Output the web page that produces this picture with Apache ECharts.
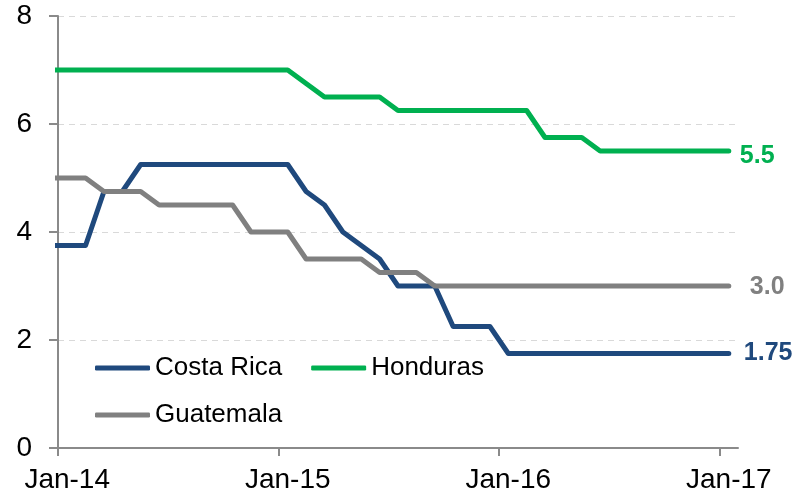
<!DOCTYPE html>
<html>
<head>
<meta charset="utf-8">
<script src="https://cdn.jsdelivr.net/npm/echarts@6/dist/echarts.min.js"></script>
<style>
  html, body { margin: 0; padding: 0; background: #fff; }
  .chart { width: 805px; height: 498px; }
</style>
</head>
<body>
<div class="chart"></div>
<script>
// 数据 (monthly, plotted at mid-month; 0 = start of Jan-14)
var months = [];
for (var i = -1; i <= 36; i++) months.push(i + 0.5);

var costaRica = [3.75, 3.75, 3.75, 4.75, 4.75,
    5.25, 5.25, 5.25, 5.25, 5.25, 5.25, 5.25, 5.25, 5.25,
    4.75, 4.5, 4.0, 3.75, 3.5, 3.0, 3.0, 3.0, 2.25, 2.25, 2.25,
    1.75, 1.75, 1.75, 1.75, 1.75, 1.75, 1.75, 1.75, 1.75, 1.75, 1.75, 1.75, 1.75];
var honduras = [7, 7, 7, 7, 7, 7, 7, 7, 7, 7, 7, 7, 7, 7,
    6.75, 6.5, 6.5, 6.5, 6.5,
    6.25, 6.25, 6.25, 6.25, 6.25, 6.25, 6.25, 6.25,
    5.75, 5.75, 5.75,
    5.5, 5.5, 5.5, 5.5, 5.5, 5.5, 5.5, 5.5];
var guatemala = [5, 5, 5, 4.75, 4.75, 4.75,
    4.5, 4.5, 4.5, 4.5, 4.5, 4, 4, 4,
    3.5, 3.5, 3.5, 3.5, 3.25, 3.25, 3.25,
    3, 3, 3, 3, 3, 3, 3, 3, 3, 3, 3, 3, 3, 3, 3, 3, 3];

var tickMonths = [0, 12, 24, 36];
var tickLabels = ['Jan-14', 'Jan-15', 'Jan-16', 'Jan-17'];
var endLabels = ['1.75', '5.5', '3.0'];

var font = 'Liberation Sans, Arial, sans-serif';
var axisColor = '#8a8a8a';

function pairs(vals) {
    return vals.map(function (v, i) { return [months[i], v]; });
}

function lineSeries(name, vals, color, label, dist, dy) {
    return {
        name: name,
        type: 'line',
        data: pairs(vals),
        showSymbol: false,
        symbol: 'none',
        clip: true,
        lineStyle: { color: color, width: 5, cap: 'round', join: 'round' },
        itemStyle: { color: color },
        endLabel: {
            show: true,
            formatter: label,
            color: color,
            fontFamily: font,
            fontWeight: 'bold',
            fontSize: 25,
            distance: dist,
            offset: [0, dy]
        },
        animation: false
    };
}

var myChart = echarts.init(document.querySelector('.chart'));
var legendBase = {
    itemWidth: 55,
    itemHeight: 5,
    icon: 'roundRect',
    itemGap: 29,
    padding: 0,
    textStyle: { fontFamily: font, fontSize: 26, color: '#000' }
};
var option = {
    animation: false,
    grid: { left: 58, top: 16, width: 680, height: 432 },
    legend: [
        Object.assign({ data: ['Costa Rica', 'Honduras'], left: 95, top: 355 }, legendBase),
        Object.assign({ data: ['Guatemala'], left: 95, top: 402 }, legendBase)
    ],
    xAxis: {
        type: 'value',
        min: 0,
        max: 37,
        splitLine: { show: false },
        axisLine: { lineStyle: { color: axisColor, width: 2 } },
        axisTick: {
            customValues: tickMonths,
            length: 8,
            lineStyle: { color: axisColor, width: 2 }
        },
        axisLabel: {
            customValues: tickMonths.map(function (m) { return m + 0.5; }),
            formatter: function (v) {
                return tickLabels[tickMonths.indexOf(v - 0.5)] || '';
            },
            margin: 18,
            fontFamily: font,
            fontSize: 28,
            color: '#000'
        }
    },
    yAxis: {
        type: 'value',
        min: 0,
        max: 8,
        interval: 2,
        axisLine: { show: true, lineStyle: { color: axisColor, width: 2 } },
        axisTick: { show: true, length: 9, lineStyle: { color: axisColor, width: 2 } },
        splitLine: { lineStyle: { color: '#d9d9d9', type: [6, 5], width: 1 } },
        axisLabel: {
            margin: 26,
            fontFamily: font,
            fontSize: 28,
            color: '#000'
        }
    },
    series: [
        lineSeries('Costa Rica', costaRica, '#1f497d', endLabels[0], 15, 0),
        lineSeries('Honduras', honduras, '#00b050', endLabels[1], 11, 5),
        lineSeries('Guatemala', guatemala, '#808080', endLabels[2], 21, 1)
    ]
};

myChart.setOption(option);
</script>
</body>
</html>
